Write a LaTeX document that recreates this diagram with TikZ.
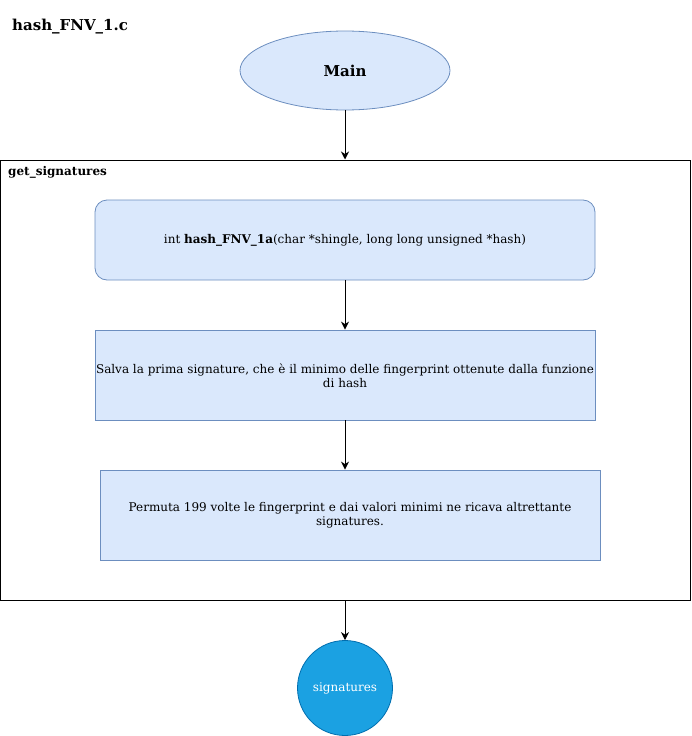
\documentclass[tikz,border=0pt]{standalone}
\usepackage{fontspec}
\setmainfont{DejaVu Serif}
\usetikzlibrary{shapes.geometric,arrows.meta}
\definecolor{boxfill}{HTML}{DAE8FC}
\definecolor{boxline}{HTML}{6C8EBF}
\definecolor{circfill}{HTML}{1BA1E2}
\definecolor{circline}{HTML}{006EAF}
\tikzset{
  flowbox/.style={draw=boxline, fill=boxfill, line width=0.8pt, minimum width=500pt, align=center, font=\fontsize{12}{14}\selectfont, inner sep=0pt},
  conn/.style={-{Stealth[length=8pt,width=8pt,inset=2.5pt]}, line width=1pt, black},
}
\begin{document}
\begin{tikzpicture}[x=1pt,y=-1pt]
\useasboundingbox (0,0) rectangle (691,736);
\node[anchor=west, font=\bfseries\fontsize{15}{18}\selectfont, inner sep=0pt] (title) at (12,26.5) {hash\_FNV\_1.c};
\node[ellipse, draw=boxline, fill=boxfill, line width=0.8pt, minimum width=210pt, minimum height=79pt, inner sep=0pt, font=\bfseries\fontsize{15}{18}\selectfont] (main) at (345,70.5) {Main};
\node[draw=black, line width=1pt, minimum width=690pt, minimum height=440pt, inner sep=0pt] (cont) at (345,380) {};
\node[anchor=west, font=\bfseries\fontsize{12}{14}\selectfont, inner sep=0pt] (clabel) at (8,172.5) {get\_signatures};
\node[flowbox, rounded corners=12pt, minimum height=80pt] (b1) at (345,240) {int \textbf{hash\_FNV\_1a}(char *shingle, long long unsigned *hash)};
\node[flowbox, minimum height=90pt] (b2) at (345,375) {};
\node[align=center, font=\fontsize{12}{14}\selectfont, inner sep=0pt] (t2) at (345,375.5) {Salva la prima signature, che è il minimo delle fingerprint ottenute dalla funzione\\di hash};
\node[flowbox, minimum height=90pt] (b3) at (350,515) {};
\node[align=center, font=\fontsize{12}{14}\selectfont, inner sep=0pt] (t3) at (350,515.5) {Permuta 199 volte le fingerprint e dai valori minimi ne ricava altrettante\\signatures.};
\node[circle, draw=circline, fill=circfill, line width=0.8pt, minimum size=95pt, inner sep=0pt, text=white, font=\fontsize{12}{14}\selectfont] (sig) at (345,688) {signatures};
\draw[conn] (main.south) -- (main.south |- cont.north);
\draw[conn] (b1.south) -- (b2.north -| b1.south);
\draw[conn] (b2.south) -- (b2.south |- b3.north);
\coordinate (cb) at (cont.south -| sig.north);
\draw[conn] (cb) -- (sig.north);
\end{tikzpicture}
\end{document}
